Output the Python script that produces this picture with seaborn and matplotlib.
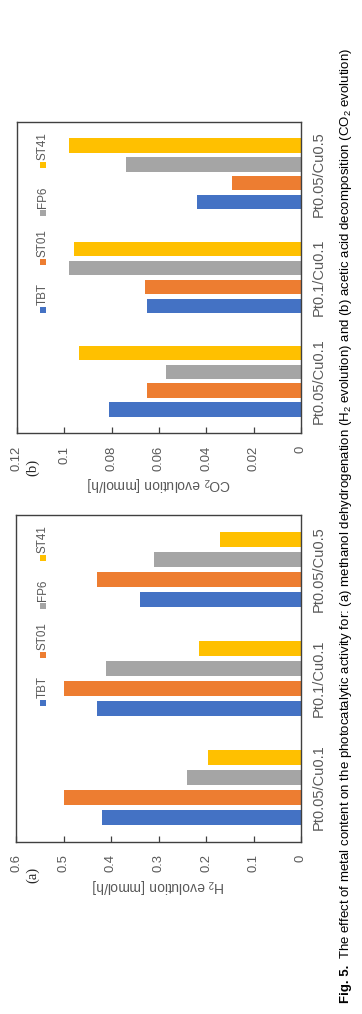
import numpy as np
import pandas as pd
import matplotlib
matplotlib.use("Agg")
import matplotlib.pyplot as plt
from matplotlib.transforms import offset_copy
import seaborn as sns

# ---- data -------------------------------------------------------------
categories = ["Pt0.05/Cu0.1", "Pt0.1/Cu0.1", "Pt0.05/Cu0.5"]
series = ["TBT", "ST01", "FP6", "ST41"]
series_colors = ["#4472C4", "#ED7D31", "#A5A5A5", "#FFC000"]

# (a) methanol dehydrogenation, H2 evolution [mmol/h]
h2_tbt = [0.42, 0.43, 0.34]
h2_st01 = [0.50, 0.50, 0.43]
h2_fp6 = [0.24, 0.41, 0.31]
h2_st41 = [0.195, 0.215, 0.17]

# (b) acetic acid decomposition, CO2 evolution [mmol/h]
co2_tbt = [0.081, 0.065, 0.044]
co2_st01 = [0.065, 0.066, 0.029]
co2_fp6 = [0.057, 0.098, 0.074]
co2_st41 = [0.094, 0.096, 0.098]

h2_ticks = [0, 0.1, 0.2, 0.3, 0.4, 0.5, 0.6]
h2_tick_labels = ["0", "0.1", "0.2", "0.3", "0.4", "0.5", "0.6"]
co2_ticks = [0, 0.02, 0.04, 0.06, 0.08, 0.10, 0.12]
co2_tick_labels = ["0", "0.02", "0.04", "0.06", "0.08", "0.1", "0.12"]

h2_axis_label = "H$_2$ evolution [mmol/h]"
co2_axis_label = "CO$_2$ evolution [mmol/h]"
caption_head = "Fig. 5."
caption_body = ("The effect of metal content on the photocatalytic activity for: "
                "(a) methanol dehydrogenation (H$_2$ evolution) and "
                "(b) acetic acid decomposition (CO$_2$ evolution)")

# ---- style ------------------------------------------------------------
sns.set_style("white")
plt.rcParams["font.family"] = ["Liberation Sans", "DejaVu Sans"]
plt.rcParams["mathtext.default"] = "regular"

GREY = "#595959"
FRAME = "#404040"
NARROW = ["Liberation Sans Narrow", "Liberation Sans", "DejaVu Sans"]

W, H = 362, 1014
fig = plt.figure(figsize=(W / 100, H / 100), dpi=100)

# page is turned a quarter turn: value axes run right-to-left along the bottom
ax_b = fig.add_axes([17 / W, 1 - 433 / H, 284 / W, 311 / H])
ax_a = fig.add_axes([16 / W, 1 - 842 / H, 285 / W, 327 / H])


def long_table(columns):
    return pd.DataFrame({
        "category": np.tile(categories, len(series)),
        "series": np.repeat(series, len(categories)),
        "value": np.concatenate(columns),
    })


def draw_key(ax):
    pos = ax.get_position()
    x_frac = (43 / W - pos.x0) / pos.width
    for i, (name, color) in enumerate(zip(series, series_colors)):
        down_px = 188 - 48.3 * i
        tr_sq = offset_copy(ax.transAxes, fig=fig, x=0, y=-down_px * 0.72, units="points")
        ax.scatter([x_frac], [1.0], transform=tr_sq, marker="s", s=22,
                   color=color, linewidths=0, clip_on=False, zorder=5)
        tr_tx = offset_copy(ax.transAxes, fig=fig, x=0, y=-(down_px - 5) * 0.72, units="points")
        ax.text(x_frac, 1.0, name, transform=tr_tx, rotation=90, ha="center",
                va="bottom", fontsize=8.4, color=GREY)


def draw_panel(ax, table, ticks, tick_labels, axis_label):
    sns.barplot(data=table, x="value", y="category", hue="series",
                order=categories, hue_order=series, palette=series_colors,
                orient="h", width=0.73, gap=0.24, saturation=1,
                errorbar=None, legend=False, linewidth=0, ax=ax)
    ax.set_xlim(ticks[-1], ticks[0])
    ax.set_ylim(-0.5, len(categories) - 0.5)

    ax.set_xticks(ticks)
    ax.set_xticklabels(tick_labels, rotation=90, fontsize=9.4, color=GREY,
                       family=NARROW)
    ax.tick_params(axis="x", direction="in", length=4, width=0.9,
                   color=FRAME, pad=9, bottom=True, top=False)

    ax.yaxis.tick_right()
    ax.set_yticks(range(len(categories)))
    ax.set_yticklabels(categories, rotation=90, va="center", ha="left",
                       fontsize=10.5, color=GREY)
    ax.tick_params(axis="y", length=0, pad=8, left=False, right=True)

    ax.set_ylabel("")
    ax.set_xlabel(axis_label, rotation=180, fontsize=10, color=GREY, labelpad=3)
    for spine in ax.spines.values():
        spine.set_visible(True)
        spine.set_color(FRAME)
        spine.set_linewidth(1.0)
    draw_key(ax)


draw_panel(ax_a, long_table([h2_tbt, h2_st01, h2_fp6, h2_st41]),
           h2_ticks, h2_tick_labels, h2_axis_label)
draw_panel(ax_b, long_table([co2_tbt, co2_st01, co2_fp6, co2_st41]),
           co2_ticks, co2_tick_labels, co2_axis_label)

# panel tags
fig.text(33 / W, 1 - 875 / H, "(a)", rotation=90, ha="center", va="center",
         family=["Liberation Serif", "DejaVu Serif"], fontsize=10.5)
fig.text(33 / W, 1 - 467 / H, "(b)", rotation=90, ha="center", va="center",
         family=["Liberation Serif", "DejaVu Serif"], fontsize=10.5)

# caption along the right edge
head = fig.text(346 / W, 1 - 1003 / H, caption_head, rotation=90, ha="center",
                va="bottom", fontsize=9.5, weight="bold", color="black")
ax_a.annotate(caption_body, xy=(0.5, 1.0), xycoords=head, xytext=(0, 4),
              textcoords="offset points", rotation=90, ha="center",
              va="bottom", fontsize=9.5, color="black")

fig.savefig("out.png", dpi=100)
